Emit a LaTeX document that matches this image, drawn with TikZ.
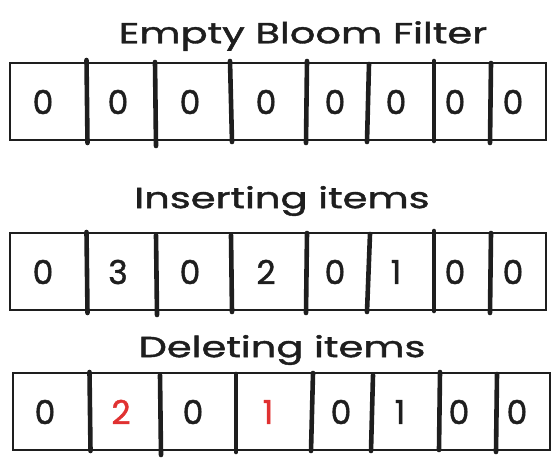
\documentclass[tikz,border=0pt]{standalone}
\usepackage{fontspec}
\setmainfont{Poppins}
\newfontfamily\hand{Poppins}[FakeBold=1.3]
\definecolor{ink}{HTML}{1E1E1E}
\definecolor{hot}{HTML}{E03131}
\begin{document}
\begin{tikzpicture}[x=1pt,y=-1pt,
  title/.style={font=\hand\fontsize{29}{32}\selectfont, text=ink, inner sep=0pt, xscale=1.38},
  digit/.style={font=\hand\fontsize{33}{35}\selectfont, text=ink, inner sep=0pt},
  changed/.style={digit, text=hot},
  frame/.style={draw=ink, line width=1.4pt, inner sep=0pt},
  bar/.style={draw=ink, line width=4.6pt, line cap=round}]
\useasboundingbox (0,0) rectangle (560,464);

% ---- empty filter ----
\node[title] (t1) at (303,36) {Empty Bloom Filter};
\node[frame, minimum width=536, minimum height=77] (r1) at (278,101.5) {};
\draw[bar] (86.5,60) -- (87.5,143);
\draw[bar] (155,62) -- (156,146);
\draw[bar] (230,61) -- (232,142);
\draw[bar] (307,61) -- (306,143);
\draw[bar] (369,64) -- (367,142);
\draw[bar] (434,61) -- (434,141);
\draw[bar] (491,63) -- (490,143);
\foreach \x [count=\i] in {43,118,190,266,335,396,455,513}
  \node[digit] (a\i) at (\x,102) {0};

% ---- after insertions ----
\node[title] (t2) at (282,201) {Inserting items};
\node[frame, minimum width=536, minimum height=77] (r2) at (278,271.5) {};
\draw[bar] (86.5,232) -- (87.5,313);
\draw[bar] (156,235) -- (157,315);
\draw[bar] (231,235) -- (232,312);
\draw[bar] (307,233) -- (306,313);
\draw[bar] (370,234) -- (367,312);
\draw[bar] (434,231) -- (434,311);
\draw[bar] (491,233) -- (490,313);
\foreach \x/\v [count=\i] in {43/0,118/3,190/0,266/2,335/0,396/1,455/0,513/0}
  \node[digit] (b\i) at (\x,272) {\v};

% ---- after deletions ----
\node[title] (t3) at (282,350) {Deleting items};
\node[frame, minimum width=537, minimum height=77] (r3) at (281.5,411.5) {};
\node[digit] (c1) at (45,412) {0};
\node[changed] (c2) at (121,412) {2};
\node[digit] (c3) at (193,412) {0};
\node[changed] (c4) at (268,412) {1};
\node[digit] (c5) at (341,412) {0};
\node[digit] (c6) at (400,412) {1};
\node[digit] (c7) at (459,412) {0};
\node[digit] (c8) at (517,412) {0};
\draw[bar] (89.5,372) -- (90.5,451);
\draw[bar] (160,375) -- (161,455);
\draw[bar] (236,374) -- (236,452);
\draw[bar] (313,373) -- (311,451);
\draw[bar] (373,375) -- (371,451);
\draw[bar] (440,372) -- (439,450);
\draw[bar] (497,374) -- (496,452);
\end{tikzpicture}
\end{document}
